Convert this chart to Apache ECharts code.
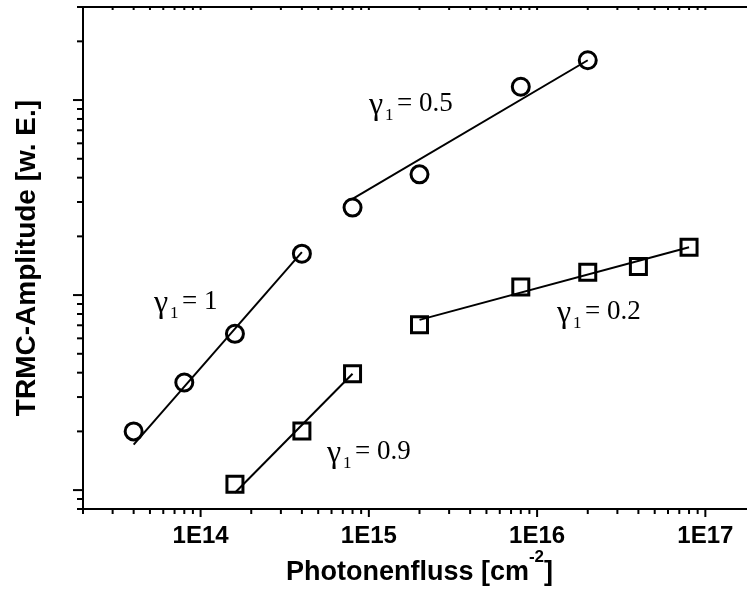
<!DOCTYPE html>
<html>
<head>
<meta charset="utf-8">
<script src="https://cdn.jsdelivr.net/npm/echarts@6/dist/echarts.min.js"></script>
<style>
  html, body { margin: 0; padding: 0; background: #fff; }
  #chart { width: 747px; height: 590px; }
</style>
</head>
<body>
<div id="chart"></div>
<script>
const gamma1X = [4e13, 8e13, 1.6e14, 4e14];
const gamma1Y = [0.0200, 0.0356, 0.0633, 0.163];
const gamma05X = [8e14, 2e15, 8e15, 2e16];
const gamma05Y = [0.281, 0.416, 1.17, 1.60];
const gamma09X = [1.6e14, 4e14, 8e14];
const gamma09Y = [0.0107, 0.0201, 0.0395];
const gamma02X = [2e15, 8e15, 2e16, 4e16, 8e16];
const gamma02Y = [0.0704, 0.110, 0.131, 0.140, 0.176];

// fit lines, start and end
const fit1X = [4e13, 4e14];
const fit1Y = [0.0171, 0.166];
const fit05X = [8e14, 2e16];
const fit05Y = [0.311, 1.60];
const fit09X = [1.6e14, 8e14];
const fit09Y = [0.0097, 0.0395];
const fit02X = [2e15, 8e16];
const fit02Y = [0.0746, 0.176];

// axes
const xMin = 2e13, xMax = 2e17;
const yMin = 0.008, yMax = 3;
const xDecades = [1e13, 1e14, 1e15, 1e16, 1e17];
const yDecades = [0.001, 0.01, 0.1, 1];
const minorSteps = [2, 3, 4, 5, 6, 7, 8, 9];
const xLabelValues = [1e14, 1e15, 1e16, 1e17];
const xTickLabels = ['1E14', '1E15', '1E16', '1E17'];

const pairs = (xs, ys) => xs.map((x, i) => [x, ys[i]]);

function ticksIn(decades, lo, hi) {
    const major = [], minor = [];
    decades.forEach(d => {
        if (d >= lo * 0.999 && d <= hi * 1.001) major.push(d);
        minorSteps.forEach(k => {
            const v = k * d;
            if (v >= lo * 0.999 && v <= hi * 1.001) minor.push(v);
        });
    });
    return { major, minor };
}

const xt = ticksIn(xDecades, xMin, xMax);
const yt = ticksIn(yDecades, yMin, yMax);

// [x, y, dx, dy] : tick anchored on the axis, drawn by pixel offset
const tickItems = [];
xt.major.forEach(v => tickItems.push([v, yMin, 0, 8]));
xt.minor.forEach(v => tickItems.push([v, yMin, 0, 5]));
xt.major.concat(xt.minor).forEach(v => tickItems.push([v, yMax, 0, 3]));
yt.major.forEach(v => tickItems.push([xMin, v, -10, 0]));
yt.minor.forEach(v => tickItems.push([xMin, v, -6, 0]));

const chart = echarts.init(document.getElementById('chart'));

const serif = '"Liberation Serif", "Times New Roman", serif';
const sans = '"Liberation Sans", Arial, sans-serif';

function gammaLabel(left, baseline, value) {
    return [
        { type: 'text', x: left, y: baseline + 4 - 10, silent: true,
          style: { text: 'γ', font: '32px ' + serif, fill: '#000', verticalAlign: 'middle' } },
        { type: 'text', x: left + 16, y: baseline + 9 - 5, silent: true,
          style: { text: '1', font: '17px ' + serif, fill: '#000', verticalAlign: 'middle' } },
        { type: 'text', x: left + 28, y: baseline - 8, silent: true,
          style: { text: '= ' + value, font: '27px ' + serif, fill: '#000', verticalAlign: 'middle' } }
    ];
}

function fitLine(xs, ys) {
    return {
        type: 'line', data: pairs(xs, ys), showSymbol: false, symbol: 'none', z: 2,
        lineStyle: { color: '#000', width: 2 }
    };
}

function points(xs, ys, symbol, size) {
    return {
        type: 'scatter', data: pairs(xs, ys), symbol: symbol, symbolSize: size, z: 3,
        itemStyle: { color: 'rgba(0,0,0,0)', borderColor: '#000', borderWidth: 3, opacity: 1 }
    };
}

const option = {
    animation: false,
    backgroundColor: '#fff',
    grid: {
        left: 83, top: 7, width: 673, height: 502,
        containLabel: false, outerBoundsMode: 'none',
        show: true, borderColor: '#000', borderWidth: 2, backgroundColor: 'transparent'
    },
    xAxis: {
        type: 'log', logBase: 10, min: xMin, max: xMax,
        axisLine: { show: false },
        axisTick: { show: false },
        splitLine: { show: false },
        axisLabel: {
            color: '#000', fontFamily: sans, fontWeight: 'bold', fontSize: 24, margin: 15,
            formatter: v => {
                const i = xLabelValues.findIndex(d => Math.abs(v / d - 1) < 1e-6);
                return i >= 0 ? xTickLabels[i] : '';
            }
        },
        name: '{a|Photonenfluss [cm}{b|-2}{a|]}',
        nameLocation: 'middle',
        nameGap: 40,
        nameMoveOverlap: false,
        nameTextStyle: {
            color: '#000',
            rich: {
                a: { fontFamily: sans, fontWeight: 'bold', fontSize: 27, lineHeight: 27, padding: [20, 0, 0, 0], color: '#000' },
                b: { fontFamily: sans, fontWeight: 'bold', fontSize: 17, lineHeight: 17, verticalAlign: 'top', color: '#000' }
            }
        }
    },
    yAxis: {
        type: 'log', logBase: 10, min: yMin, max: yMax,
        axisLine: { show: false },
        axisTick: { show: false },
        splitLine: { show: false },
        axisLabel: { show: false },
        name: 'TRMC-Amplitude [w. E.]',
        nameLocation: 'middle',
        nameGap: 42,
        nameMoveOverlap: false,
        nameTextStyle: { color: '#000', fontFamily: sans, fontWeight: 'bold', fontSize: 28 }
    },
    graphic: [].concat(
        gammaLabel(154, 310, '1'),
        gammaLabel(369, 112, '0.5'),
        gammaLabel(557, 320, '0.2'),
        gammaLabel(327, 460, '0.9')
    ),
    series: [
        {
            type: 'custom', silent: true, clip: false, z: 4,
            data: tickItems,
            renderItem: (params, api) => {
                const p = api.coord([api.value(0), api.value(1)]);
                return {
                    type: 'line',
                    shape: { x1: p[0], y1: p[1], x2: p[0] + api.value(2), y2: p[1] + api.value(3) },
                    style: { stroke: '#000', lineWidth: 2 }
                };
            }
        },
        fitLine(fit1X, fit1Y),
        fitLine(fit05X, fit05Y),
        fitLine(fit09X, fit09Y),
        fitLine(fit02X, fit02Y),
        points(gamma1X, gamma1Y, 'circle', 17),
        points(gamma05X, gamma05Y, 'circle', 17),
        points(gamma09X, gamma09Y, 'rect', 16),
        points(gamma02X, gamma02Y, 'rect', 16)
    ]
};

chart.setOption(option);
window.addEventListener('resize', () => chart.resize());
</script>
</body>
</html>
